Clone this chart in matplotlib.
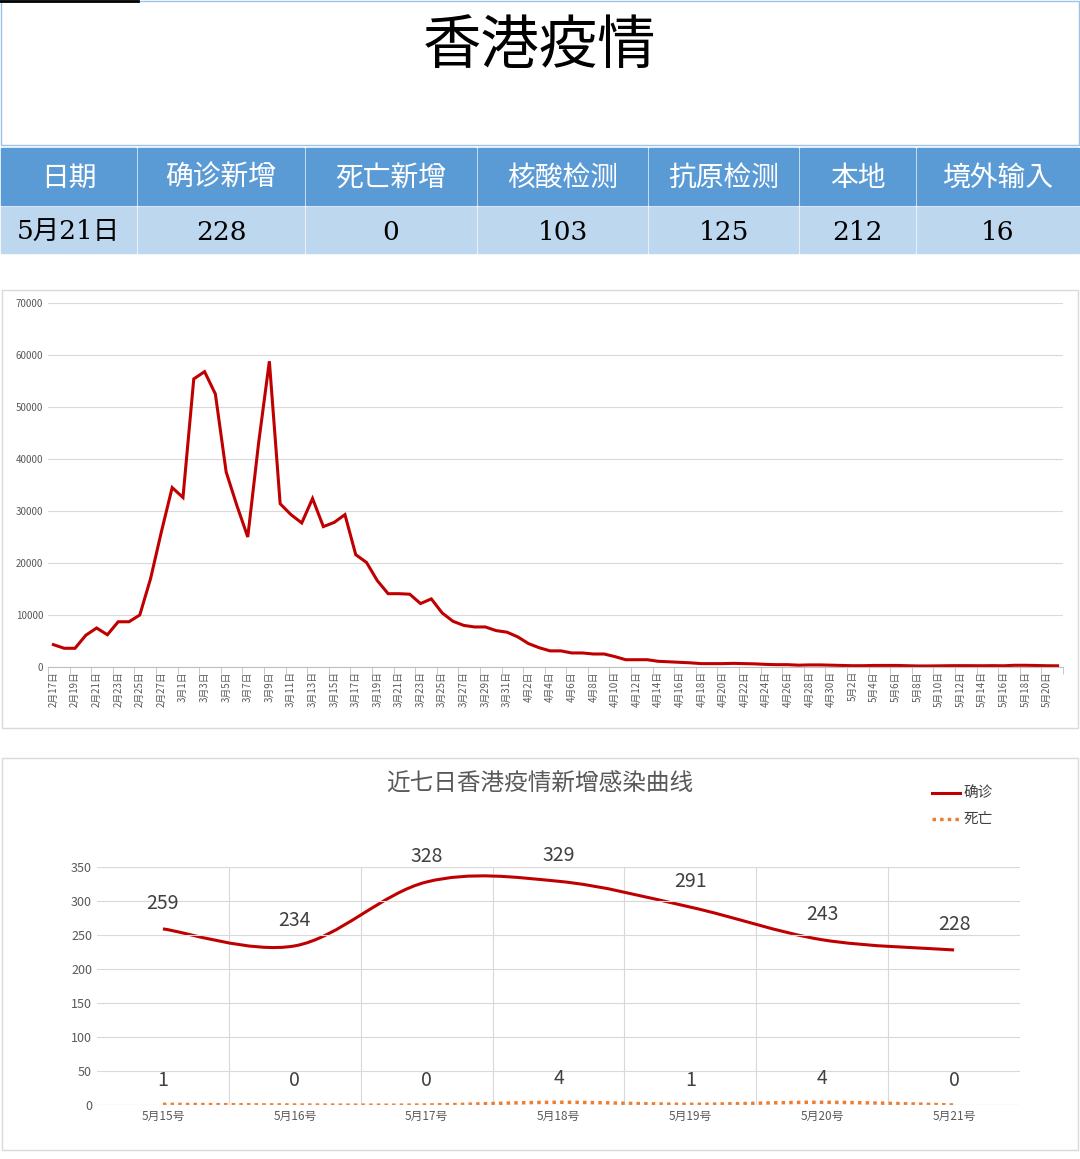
import matplotlib
matplotlib.use("Agg")
import matplotlib.pyplot as plt
from matplotlib.path import Path
from matplotlib.patches import PathPatch, Rectangle
import numpy as np
import datetime as dt

CJK = ["Noto Sans CJK SC", "Noto Sans CJK JP", "Noto Sans CJK TC", "Noto Sans CJK KR"]
plt.rcParams["font.family"] = CJK + ["DejaVu Sans"]

W, H = 1080, 1159

# ---------------- data ----------------
title = "香港疫情"
table_headers = ["日期", "确诊新增", "死亡新增", "核酸检测", "抗原检测", "本地", "境外输入"]
table_values = ["5月21日", "228", "0", "103", "125", "212", "16"]

daily_cases = [
    4300, 3600, 3600, 6100, 7500, 6200, 8700, 8700, 10000, 17000, 26000, 34500,  # Feb 17-28
    32600, 55400, 56800, 52500, 37500, 31000, 25000, 43000, 58800, 31400, 29300, 27700,
    32400, 27000, 27800, 29300, 21600, 20100, 16600, 14100, 14100, 14000, 12200, 13100,
    10400, 8800, 8000, 7700, 7700, 7000, 6700,  # Mar
    5800, 4500, 3700, 3100, 3100, 2700, 2700, 2500, 2500, 2000, 1400, 1400, 1400, 1100,
    1000, 900, 800, 650, 650, 650, 700, 650, 600, 500, 450, 450, 350, 400, 400, 350,  # Apr
    300, 250, 250, 300, 300, 300, 250, 200, 200, 220, 250, 260, 250, 240, 259, 234,
    328, 329, 291, 243, 228,  # May
]
start_date = dt.date(2022, 2, 17)
dates = [start_date + dt.timedelta(days=i) for i in range(len(daily_cases))]
date_labels = [f"{d.month}月{d.day}日" for d in dates]

week_labels = ["5月15号", "5月16号", "5月17号", "5月18号", "5月19号", "5月20号", "5月21号"]
week_confirmed = [259, 234, 328, 329, 291, 243, 228]
week_deaths = [1, 0, 0, 4, 1, 4, 0]

# ---------------- helpers ----------------
def rect(x, y, w, h):
    return [x / W, 1 - (y + h) / H, w / W, h / H]

fig = plt.figure(figsize=(W / 100, H / 100), dpi=100)
fig.patch.set_facecolor("white")

bg = fig.add_axes([0, 0, 1, 1])
bg.set_xlim(0, W); bg.set_ylim(H, 0); bg.axis("off")

bg.add_patch(Rectangle((1, 1), W - 2, 144, fill=False, ec="#9DC3E6", lw=1))
bg.plot([0, 138], [1, 1], color="black", lw=2)
bg.text(W / 2, 46, title, ha="center", va="center", fontsize=42, color="black")

col_edges = [0, 137, 305, 477, 648, 799, 916, 1080]
for i in range(7):
    x0, x1 = col_edges[i], col_edges[i + 1]
    bg.add_patch(Rectangle((x0 + 1, 148), x1 - x0 - 2, 57, color="#5B9BD5"))
    bg.add_patch(Rectangle((x0 + 1, 207), x1 - x0 - 2, 46, color="#BDD7EE"))
    bg.text((x0 + x1) / 2, 178, table_headers[i], ha="center", va="center",
            fontsize=20, color="white")
    bg.text((x0 + x1) / 2, 232, table_values[i], ha="center", va="center",
            fontsize=19, color="black", family=["DejaVu Serif"] + CJK)

bg.add_patch(Rectangle((2, 290), W - 4, 438, fill=False, ec="#D9D9D9", lw=1))
bg.add_patch(Rectangle((2, 758), W - 4, 392, fill=False, ec="#D9D9D9", lw=1))

# ---------------- middle chart ----------------
ax = fig.add_axes(rect(48, 303, 1015, 364))
x = np.arange(len(daily_cases))
ax.plot(x, daily_cases, color="#C00000", lw=2.2, solid_joinstyle="miter")
ax.set_ylim(0, 70000)
ax.set_xlim(-0.5, len(daily_cases) - 0.5)
ax.set_yticks(range(0, 70001, 10000))
ax.tick_params(axis="y", length=0, labelsize=7, labelcolor="#595959")
ax.set_xticks(x[::2])
ax.set_xticklabels(date_labels[::2], rotation=90, fontsize=7, color="#595959")
ax.set_xticks(np.arange(-0.5, len(daily_cases), 2), minor=True)
ax.tick_params(axis="x", which="major", length=0, pad=3)
ax.tick_params(axis="x", which="minor", length=5, color="#BFBFBF")
ax.grid(axis="y", color="#D9D9D9", lw=0.8)
ax.set_axisbelow(True)
for s in ["top", "right", "left"]:
    ax.spines[s].set_visible(False)
ax.spines["bottom"].set_color("#BFBFBF")

# ---------------- bottom chart ----------------
bx = fig.add_axes(rect(97, 867, 923, 238))
n = len(week_confirmed)
xs = np.arange(n)
bx.set_xlim(-0.5, n - 0.5)
bx.set_ylim(0, 350)
bx.set_yticks(range(0, 351, 50))
bx.tick_params(axis="y", length=0, labelsize=9, labelcolor="#595959")
bx.set_xticks(xs)
bx.set_xticklabels(week_labels, fontsize=8.5, color="#595959")
bx.tick_params(axis="x", length=0)
bx.grid(axis="y", color="#D9D9D9", lw=0.8)
for b in np.arange(0.5, n - 0.5, 1):
    bx.axvline(b, color="#D9D9D9", lw=0.8, zorder=0)
for s in ["top", "right", "left", "bottom"]:
    bx.spines[s].set_visible(False)
bx.axhline(0, color="#D9D9D9", lw=0.8)


def smooth_path(xv, yv):
    xv = np.asarray(xv, float); yv = np.asarray(yv, float)
    verts = [(xv[0], yv[0])]
    codes = [Path.MOVETO]
    t = 1 / 6
    for i in range(len(xv) - 1):
        p0 = (xv[max(i - 1, 0)], yv[max(i - 1, 0)])
        p1 = (xv[i], yv[i]); p2 = (xv[i + 1], yv[i + 1])
        p3 = (xv[min(i + 2, len(xv) - 1)], yv[min(i + 2, len(xv) - 1)])
        c1 = (p1[0] + (p2[0] - p0[0]) * t, p1[1] + (p2[1] - p0[1]) * t)
        c2 = (p2[0] - (p3[0] - p1[0]) * t, p2[1] - (p3[1] - p1[1]) * t)
        verts += [c1, c2, p2]
        codes += [Path.CURVE4] * 3
    return Path(verts, codes)

bx.add_patch(PathPatch(smooth_path(xs, week_confirmed), fill=False,
                       ec="#C00000", lw=2.2))
bx.add_patch(PathPatch(smooth_path(xs, week_deaths), fill=False,
                       ec="#ED7D31", lw=2.5, ls=(0, (1, 1.2))))
for xi, v in zip(xs, week_confirmed):
    bx.text(xi, v + 22, str(v), ha="center", va="bottom", fontsize=14,
            color="#404040", clip_on=False)
for xi, v in zip(xs, week_deaths):
    bx.text(xi, v + 20, str(v), ha="center", va="bottom", fontsize=14,
            color="#404040", clip_on=False)

bg.text(540, 784, "近七日香港疫情新增感染曲线", ha="center", va="center",
        fontsize=17, color="#595959")
bg.plot([932, 960], [793, 793], color="#C00000", lw=2.2)
bg.text(964, 793, "确诊", va="center", fontsize=10.5, color="#404040")
bg.plot([932, 960], [819, 819], color="#ED7D31", lw=2.5, ls=(0, (1, 1.2)))
bg.text(964, 819, "死亡", va="center", fontsize=10.5, color="#404040")

fig.savefig("out.png", dpi=100, facecolor="white")
